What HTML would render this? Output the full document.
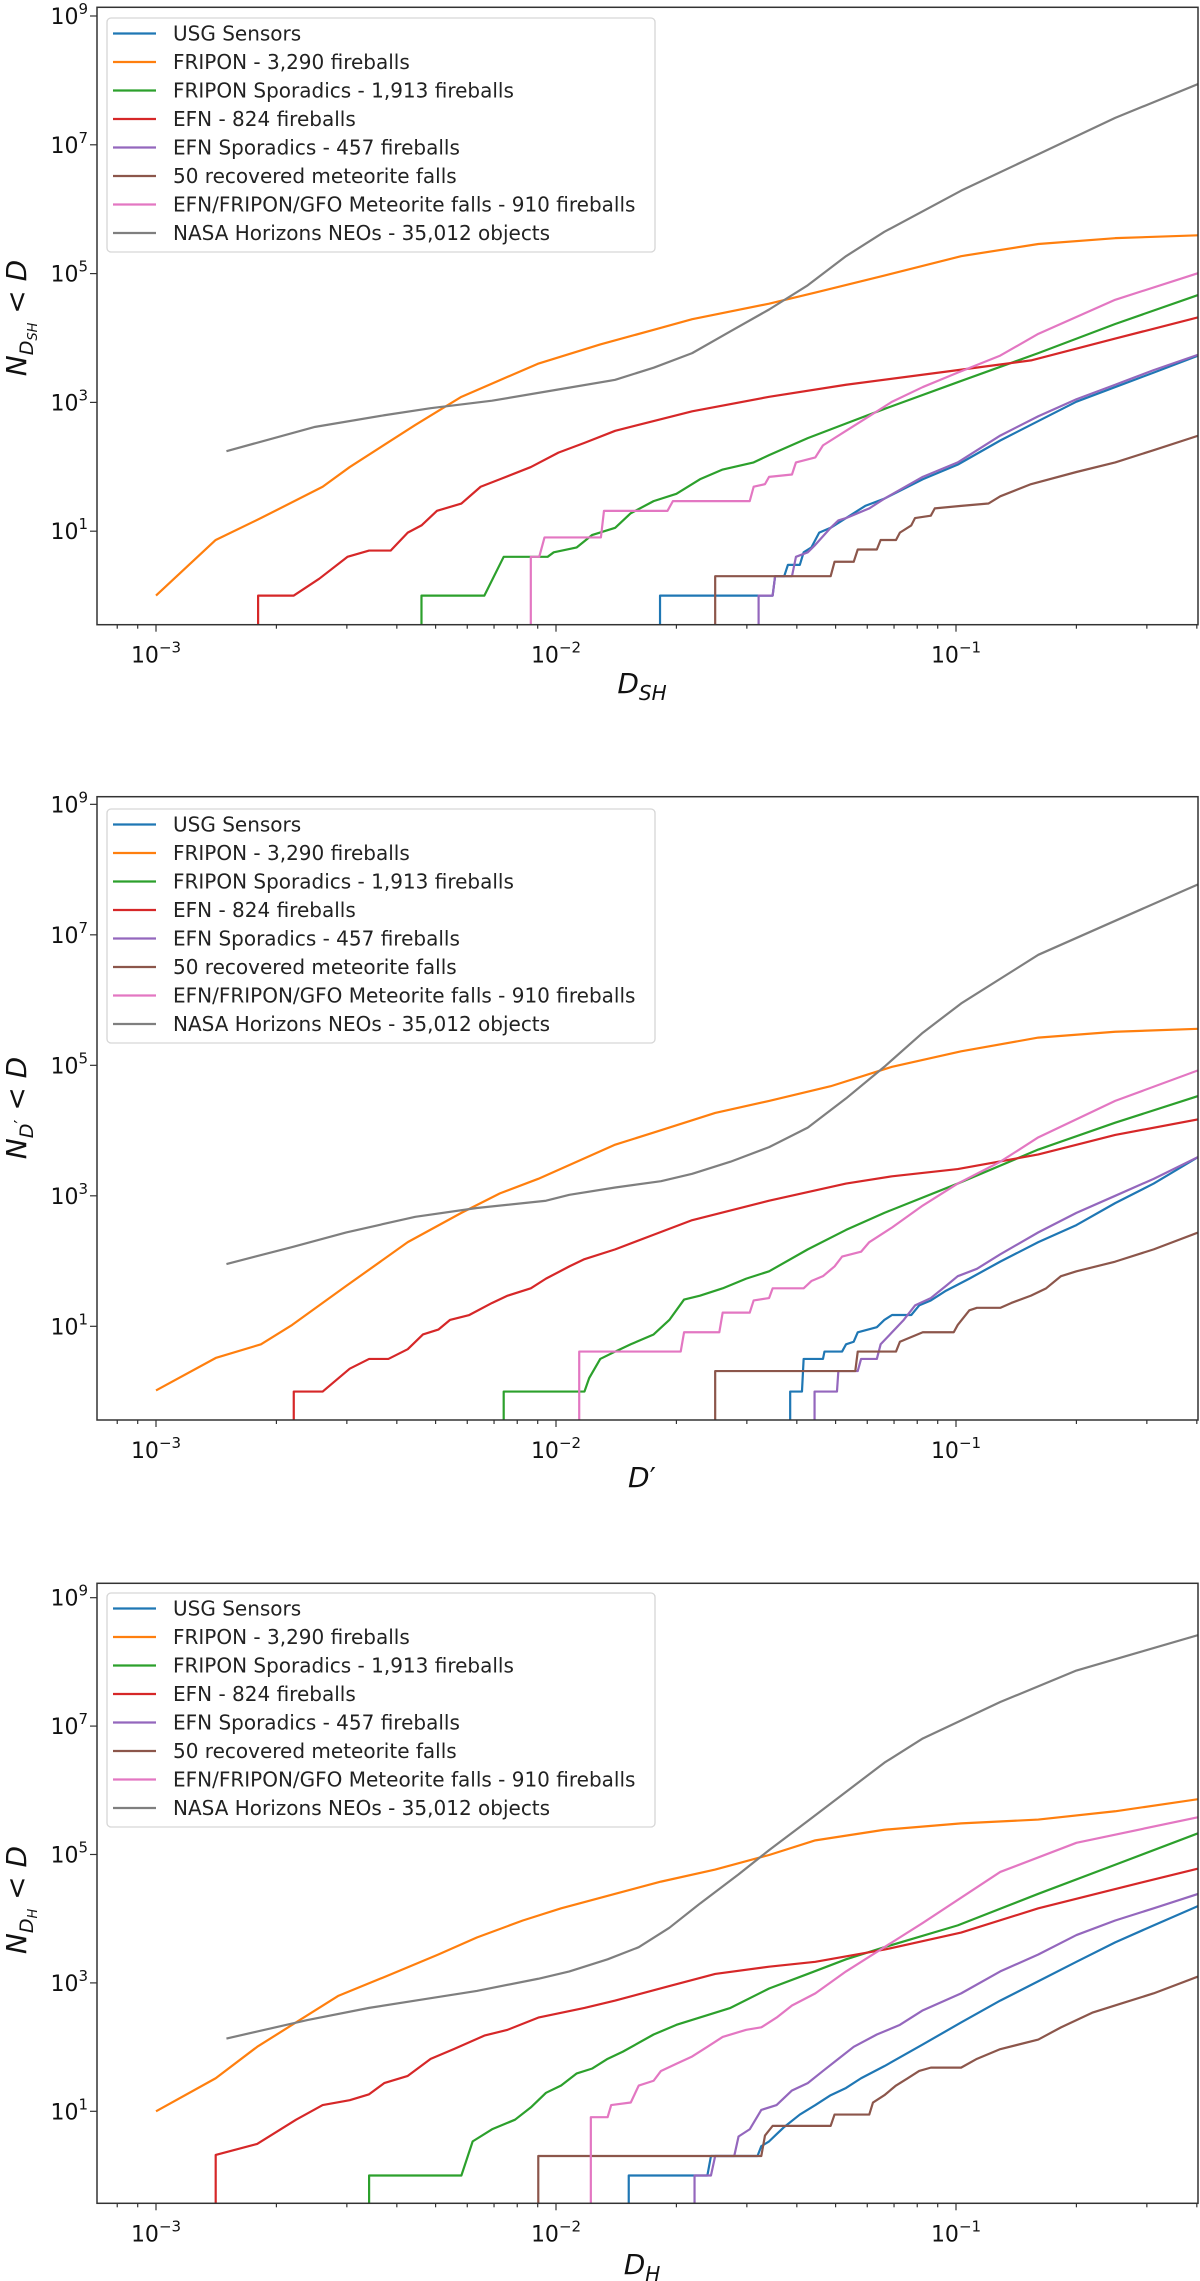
<!DOCTYPE html>
<html><head><meta charset="utf-8"><style>
html,body{margin:0;padding:0;background:#fff;}
svg{display:block;font-family:"DejaVu Sans","Liberation Sans",sans-serif;}
</style></head><body>
<svg id="fig" width="1200" height="2281" viewBox="0 0 1200 2281" xmlns="http://www.w3.org/2000/svg"></svg>
<script>
const seriesNames = ["USG Sensors","FRIPON - 3,290 fireballs","FRIPON Sporadics - 1,913 fireballs","EFN - 824 fireballs","EFN Sporadics - 457 fireballs","50 recovered meteorite falls","EFN/FRIPON/GFO Meteorite falls - 910 fireballs","NASA Horizons NEOs - 35,012 objects"];
const seriesKeys = ["usg","fripon","fripon-sporadics","efn","efn-sporadics","recovered-falls","meteorite-falls","nasa-neos"];
const seriesColors = ["#1f77b4","#ff7f0e","#2ca02c","#d62728","#9467bd","#8c564b","#e377c2","#7f7f7f"];
const xTickLabels = ["−3","−2","−1"];
const xTickValues = [0.001,0.01,0.1];
const yTickValues = [10,1000,100000,10000000,1000000000];
const yTickExps = ["1","3","5","7","9"];

// ---- Chart 1: D_SH ----
const dsh_usg_x = [0.0182,0.0182,0.0348,0.0353,0.0372,0.038,0.0407,0.0416,0.0435,0.0455,0.0486,0.0531,0.0593,0.0662,0.0826,0.101,0.129,0.1606,0.2,0.25,0.312,0.4036];
const dsh_usg_y = [0.1,1,1,2,2,3,3,4.7,5.6,9.5,11.3,16,24.7,32,64,108,256,513,1025,1730,2900,5330];
const dsh_fripon_x = [0.001,0.00141,0.00183,0.00261,0.00305,0.00445,0.0058,0.009,0.0129,0.01755,0.0219,0.0341,0.0445,0.0662,0.103,0.1606,0.25,0.4036];
const dsh_fripon_y = [1,7.3,16,49,99,447,1220,3970,7940,13400,19600,34100,50800,93300,186600,288000,355000,393000];
const dsh_spor_x = [0.00461,0.00461,0.00662,0.0074,0.00953,0.00987,0.01127,0.0123,0.01406,0.01538,0.01754,0.02,0.0229,0.0261,0.0312,0.0341,0.0426,0.0531,0.0662,0.101,0.1606,0.25,0.4036];
const dsh_spor_y = [0.1,1,1,4,4,4.7,5.6,8.7,11.3,19,29.3,38,64,90.6,117,152,279,470,791,2060,5820,16500,46700];
const dsh_efn_x = [0.0018,0.0018,0.00221,0.00256,0.00301,0.00341,0.00386,0.00426,0.00461,0.00504,0.0058,0.00648,0.00724,0.00865,0.01014,0.01178,0.01406,0.01754,0.0219,0.0341,0.0531,0.101,0.154,0.25,0.4036];
const dsh_efn_y = [0.1,1,1,1.83,4,5,5,9.5,12.3,20.7,26.9,49,64,99,166,235,362,513,726,1220,1880,3170,4490,9790,21000];
const dsh_efnspor_x = [0.0321,0.0321,0.0348,0.0353,0.0389,0.0398,0.0426,0.0445,0.0486,0.0508,0.0531,0.0607,0.0662,0.0826,0.101,0.129,0.1606,0.2,0.25,0.312,0.4036];
const dsh_efnspor_y = [0.1,1,1,2,2,4,4.7,6.15,11.3,14.7,16,22.6,32,69.8,117,305,610,1120,1880,3170,5520];
const dsh_rec_x = [0.025,0.025,0.0486,0.0497,0.0555,0.0568,0.0634,0.0648,0.0708,0.0724,0.0773,0.079,0.0865,0.0885,0.103,0.1205,0.129,0.154,0.2,0.25,0.312,0.4036];
const dsh_rec_y = [0.1,2,2,3.35,3.35,5.2,5.2,7.3,7.3,9.5,12.3,16,17.4,22.6,24.7,26.9,34.8,53.8,83,117,181,305];
const dsh_falls_x = [0.00865,0.00865,0.00908,0.00936,0.01295,0.01318,0.019,0.0196,0.0305,0.0312,0.0333,0.0341,0.0389,0.0398,0.0445,0.0465,0.0531,0.0607,0.0692,0.0826,0.101,0.129,0.1606,0.25,0.4036];
const dsh_falls_y = [0.1,4,4,8,8,20.7,20.7,29.3,29.3,49,53.8,69.8,76,117,140,215,362,610,1025,1730,2900,5330,11600,39200,102000];
const dsh_neo_x = [0.0015,0.0025,0.00372,0.00486,0.00692,0.01013,0.01406,0.01755,0.0219,0.0273,0.0341,0.0426,0.0531,0.0662,0.103,0.1606,0.25,0.4036];
const dsh_neo_y = [175,417,631,813,1062,1585,2240,3460,5820,12700,27700,65900,186600,445000,1940000,7130000,26200000,88100000];

// ---- Chart 2: D' ----
const dp_usg_x = [0.0385,0.0385,0.0412,0.0416,0.0465,0.0469,0.0519,0.0531,0.0555,0.0568,0.0634,0.0662,0.0692,0.0773,0.0809,0.0865,0.0944,0.108,0.129,0.1606,0.2,0.25,0.312,0.4036];
const dp_usg_y = [0.1,1,1,3.16,3.16,4.1,4.1,5.3,5.8,8.1,9.7,12.5,14.9,14.9,20.9,24.9,35.1,53.8,98,195,356,773,1540,3950];
const dp_fripon_x = [0.001,0.00141,0.00183,0.00219,0.00299,0.00426,0.0058,0.00724,0.00903,0.01406,0.01754,0.025,0.0341,0.0486,0.0692,0.103,0.1606,0.25,0.4036];
const dp_fripon_y = [1.04,3.27,5.3,10.5,41.6,195,548,1090,1820,6080,9330,18600,28500,47800,95000,164000,266000,327000,363000];
const dp_spor_x = [0.0074,0.0074,0.01178,0.0121,0.0129,0.01406,0.01538,0.01754,0.0192,0.0209,0.0229,0.0261,0.0299,0.0341,0.0426,0.0531,0.0662,0.101,0.1606,0.25,0.4036];
const dp_spor_y = [0.1,1,1,1.6,3.16,4.1,5.3,7.5,12.5,25.7,29.5,38.2,53.8,69.7,151,300,548,1540,5120,13200,33900];
const dp_efn_x = [0.00221,0.00221,0.00261,0.00305,0.00341,0.00381,0.00426,0.00465,0.00508,0.00543,0.00607,0.00692,0.00757,0.00865,0.00944,0.0108,0.01178,0.01406,0.01754,0.0219,0.0341,0.0531,0.0692,0.101,0.1606,0.25,0.4036];
const dp_efn_y = [0.1,1,1,2.24,3.16,3.16,4.46,7.5,8.9,12.5,14.9,22.8,29.5,38.2,53.8,82.8,107,151,253,424,841,1540,1990,2570,4300,8570,14900];
const dp_efnspor_x = [0.0443,0.0443,0.0504,0.0508,0.0568,0.0579,0.0634,0.0648,0.0692,0.074,0.079,0.0865,0.0944,0.101,0.1128,0.129,0.1606,0.2,0.25,0.312,0.4036];
const dp_efnspor_y = [0.1,1,1,2.06,2.06,3.16,3.16,5.3,8.1,12.5,20.9,27.1,41.6,58.7,76,127,275,548,1000,1820,3950];
const dp_rec_x = [0.025,0.025,0.056,0.0568,0.0708,0.0724,0.0826,0.0987,0.101,0.108,0.1128,0.129,0.1375,0.154,0.168,0.183,0.2,0.25,0.312,0.4036];
const dp_rec_y = [0.1,2.06,2.06,4.1,4.1,5.8,8.1,8.1,10.5,17.6,19.2,19.2,22.8,29.5,38.2,58.7,69.7,98,151,275];
const dp_falls_x = [0.01143,0.01143,0.0205,0.0209,0.0256,0.0261,0.0305,0.0312,0.0341,0.0348,0.0416,0.0435,0.0465,0.0497,0.0519,0.0579,0.0607,0.0692,0.0826,0.101,0.129,0.1606,0.25,0.4036];
const dp_falls_y = [0.1,4.1,4.1,8.1,8.1,16.2,16.2,24.9,27.1,38.2,38.2,49.4,58.7,82.8,117,139,195,327,710,1540,3330,7870,28500,84100];
const dp_neo_x = [0.0015,0.00219,0.00299,0.00445,0.00634,0.00944,0.0108,0.01406,0.0183,0.0219,0.0273,0.0341,0.0426,0.0531,0.0662,0.0826,0.103,0.1606,0.25,0.4036];
const dp_neo_y = [90,164,275,477,650,841,1035,1340,1675,2170,3330,5570,11100,31100,95000,316000,887000,4940000,16400000,59700000];

// ---- Chart 3: D_H ----
const dh_usg_x = [0.0152,0.0152,0.0239,0.0244,0.0319,0.0326,0.0341,0.0356,0.0372,0.0407,0.0445,0.0486,0.0531,0.0579,0.0662,0.0826,0.103,0.129,0.1606,0.2,0.25,0.312,0.4036];
const dh_usg_y = [0.1,1,1,2.01,2.01,2.86,3.4,4.4,5.7,8.9,12.5,17.8,23.1,32.7,50.5,110,242,530,1060,2130,4280,7870,15800];
const dh_fripon_x = [0.001,0.00141,0.00179,0.00234,0.00286,0.00389,0.00508,0.00634,0.00826,0.0103,0.01406,0.0183,0.025,0.0341,0.0445,0.0662,0.103,0.1606,0.25,0.4036];
const dh_fripon_y = [10,32.7,101,288,631,1380,2770,5090,9370,14500,24400,37800,58300,98200,166000,243000,305000,350000,471000,728000];
const dh_spor_x = [0.00341,0.00341,0.0058,0.00619,0.00692,0.0079,0.00865,0.00944,0.0103,0.01127,0.0123,0.01346,0.0147,0.01754,0.02,0.0273,0.0341,0.0426,0.0531,0.0662,0.101,0.1606,0.25,0.4036];
const dh_spor_y = [0.1,1,1,3.4,5.25,7.4,11.5,19.4,25.2,38.9,46.2,65.6,85,157,222,408,818,1380,2330,3600,7870,24400,69300,215000];
const dh_efn_x = [0.00141,0.00141,0.00179,0.00224,0.00261,0.00305,0.00341,0.00372,0.00426,0.00486,0.00555,0.00662,0.00757,0.00903,0.01178,0.01406,0.0192,0.025,0.0341,0.0445,0.0662,0.103,0.1606,0.25,0.4036];
const dh_efn_y = [0.1,2.09,3.1,7.4,12.5,14.9,18.4,27.5,35.6,65.6,92.9,151,186,288,408,530,893,1380,1790,2130,3300,6070,14500,29000,60400];
const dh_efnspor_x = [0.0222,0.0222,0.0244,0.025,0.0279,0.0286,0.0305,0.0326,0.0356,0.0389,0.0426,0.0465,0.0508,0.0555,0.0634,0.0724,0.0826,0.103,0.129,0.1606,0.2,0.25,0.312,0.4036];
const dh_efnspor_y = [0.1,1,1,2.01,2.01,4.05,5.25,10.5,12.5,21.1,27.5,42.5,65.6,101,157,222,374,687,1510,2770,5560,9370,14500,24400];
const dh_rec_x = [0.00903,0.00903,0.0326,0.0333,0.0348,0.0486,0.0497,0.0607,0.062,0.0662,0.0708,0.0757,0.0809,0.0865,0.103,0.1128,0.129,0.1606,0.183,0.219,0.261,0.312,0.4036];
const dh_rec_y = [0.1,2.01,2.01,4.19,5.93,5.93,8.9,8.9,13.7,17.8,25.2,32.7,42.5,47.9,47.9,65.6,92.9,131,203,343,485,687,1260];
const dh_falls_x = [0.01222,0.01222,0.01346,0.01374,0.01538,0.0161,0.01754,0.0183,0.02,0.0219,0.0239,0.0261,0.0299,0.0326,0.0356,0.0389,0.0445,0.0531,0.0662,0.0826,0.129,0.2,0.4036];
const dh_falls_y = [0.1,8.1,8.1,12.5,13.7,25.2,29.9,42.5,55.1,71.4,101,144,186,203,288,445,687,1510,3600,8590,53500,152000,382000];
const dh_neo_x = [0.0015,0.00239,0.00341,0.00486,0.00634,0.00903,0.0108,0.01346,0.0161,0.0192,0.0229,0.0286,0.0341,0.0426,0.0531,0.0662,0.0826,0.129,0.2,0.4036];
const dh_neo_y = [136,264,408,578,750,1160,1510,2330,3600,7210,17200,49000,117000,333000,944000,2690000,6410000,23700000,73400000,262000000];

const NS = "http://www.w3.org/2000/svg";
const fig = document.getElementById("fig");
function mk(tag, attrs, parent){
  const e = document.createElementNS(NS, tag);
  for (const k in attrs) e.setAttribute(k, attrs[k]);
  (parent||fig).appendChild(e);
  return e;
}

const charts = [
  {id:"dsh", top:7.3, bottom:624.7, yLogTop:9.135, yLogBot:-0.452, xlabel:"SH", xlabelY:693, ylabelCY:318, legendTop:18,
   series:[[dsh_usg_x,dsh_usg_y],[dsh_fripon_x,dsh_fripon_y],[dsh_spor_x,dsh_spor_y],[dsh_efn_x,dsh_efn_y],[dsh_efnspor_x,dsh_efnspor_y],[dsh_rec_x,dsh_rec_y],[dsh_falls_x,dsh_falls_y],[dsh_neo_x,dsh_neo_y]]},
  {id:"dprime", top:796.7, bottom:1420, yLogTop:9.117, yLogBot:-0.436, xlabel:"prime", xlabelY:1487, ylabelCY:1108, legendTop:809,
   series:[[dp_usg_x,dp_usg_y],[dp_fripon_x,dp_fripon_y],[dp_spor_x,dp_spor_y],[dp_efn_x,dp_efn_y],[dp_efnspor_x,dp_efnspor_y],[dp_rec_x,dp_rec_y],[dp_falls_x,dp_falls_y],[dp_neo_x,dp_neo_y]]},
  {id:"dh", top:1583.3, bottom:2203.3, yLogTop:9.224, yLogBot:-0.433, xlabel:"H", xlabelY:2274, ylabelCY:1900, legendTop:1593,
   series:[[dh_usg_x,dh_usg_y],[dh_fripon_x,dh_fripon_y],[dh_spor_x,dh_spor_y],[dh_efn_x,dh_efn_y],[dh_efnspor_x,dh_efnspor_y],[dh_rec_x,dh_rec_y],[dh_falls_x,dh_falls_y],[dh_neo_x,dh_neo_y]]}
];

const LEFT = 97, RIGHT = 1198;
const xLogLeft = -3.1475, xLogRight = -0.395;

charts.forEach((c) => {
  const g = mk("g", {});
  
  
  const xs = v => LEFT + (Math.log10(v) - xLogLeft) / (xLogRight - xLogLeft) * (RIGHT - LEFT);
  const ys = v => c.top + (c.yLogTop - Math.log10(v)) / (c.yLogTop - c.yLogBot) * (c.bottom - c.top);

  const clip = mk("clipPath", {id:"clip-" + c.id}, g);
  mk("rect", {x:LEFT, y:c.top, width:RIGHT-LEFT, height:c.bottom-c.top}, clip);

  const sg = mk("g", {"clip-path":"url(#clip-" + c.id + ")"}, g);
  c.series.forEach((s, i) => {
    const pts = s[0].map((xv, j) => xs(xv).toFixed(2) + "," + ys(s[1][j]).toFixed(2)).join(" ");
    const pl = mk("polyline", {points:pts, fill:"none", stroke:seriesColors[i], "stroke-width":2.2, "stroke-linejoin":"round"}, sg);
    
    
  });

  const frame = mk("rect", {x:LEFT, y:c.top, width:RIGHT-LEFT, height:c.bottom-c.top, fill:"none", stroke:"#333", "stroke-width":1.5}, g);
  
  

  for (let d = -4; d <= 0; d++) {
    for (let k = 1; k <= 9; k++) {
      const v = k * Math.pow(10, d);
      const px = xs(v);
      if (px < LEFT - 0.5 || px > RIGHT + 0.5) continue;
      mk("line", {x1:px, x2:px, y1:c.bottom, y2:c.bottom + (k === 1 ? 7 : 4), stroke:"#333", "stroke-width":1.2}, g);
    }
  }
  xTickValues.forEach((v, i) => {
    const px = xs(v);
    const t = mk("text", {x:px, y:c.bottom + 38, "text-anchor":"middle", "font-size":22, fill:"#111"}, g);
    
    
    t.appendChild(document.createTextNode("10"));
    const sup = mk("tspan", {dy:-10, "font-size":15}, t);
    sup.textContent = xTickLabels[i];
  });

  yTickValues.forEach((v, i) => {
    const py = ys(v);
    mk("line", {x1:LEFT - 7, x2:LEFT, y1:py, y2:py, stroke:"#333", "stroke-width":1.2}, g);
    const t = mk("text", {x:88, y:py + 8, "text-anchor":"end", "font-size":22, fill:"#111"}, g);
    
    
    t.appendChild(document.createTextNode("10"));
    const sup = mk("tspan", {dy:-10, "font-size":15}, t);
    sup.textContent = yTickExps[i];
  });

  const xt = mk("text", {x:642, y:c.xlabelY, "text-anchor":"middle", "font-size":28, "font-style":"italic", fill:"#111"}, g);
  
  
  xt.appendChild(document.createTextNode("D"));
  if (c.xlabel === "prime") {
    const p = mk("tspan", {"font-style":"normal"}, xt); p.textContent = "′";
  } else {
    const s = mk("tspan", {dy:7, "font-size":20}, xt); s.textContent = c.xlabel;
  }

  const yt = mk("text", {x:0, y:0, "text-anchor":"middle", "font-size":28, "font-style":"italic", fill:"#111", transform:"translate(26," + c.ylabelCY + ") rotate(-90)"}, g);
  
  
  yt.appendChild(document.createTextNode("N"));
  const s1 = mk("tspan", {dy:7, "font-size":19}, yt); s1.textContent = "D";
  if (c.xlabel === "prime") {
    const s2 = mk("tspan", {"font-size":18, "font-style":"normal", dy:-6}, yt); s2.textContent = "′";
    const s3 = mk("tspan", {dy:-1, "font-style":"normal"}, yt); s3.textContent = " < ";
  } else {
    const s2 = mk("tspan", {"font-size":13, dy:4}, yt); s2.textContent = c.xlabel;
    const s3 = mk("tspan", {dy:-11, "font-style":"normal"}, yt); s3.textContent = " < ";
  }
  const s4 = mk("tspan", {}, yt); s4.textContent = "D";

  const lg = mk("g", {}, g);
  
  
  mk("rect", {x:107, y:c.legendTop, width:548, height:234, rx:4, fill:"#fff", "fill-opacity":0.85, stroke:"#d6d6d6", "stroke-width":1.3}, lg);
  seriesNames.forEach((n, i) => {
    const ry = c.legendTop + 15.5 + i * 28.5;
    const e = mk("g", {}, lg);
    
    
    mk("line", {x1:113, x2:156, y1:ry, y2:ry, stroke:seriesColors[i], "stroke-width":2.2}, e);
    const t = mk("text", {x:173, y:ry + 7, "font-size":20, fill:"#222"}, e);
    t.textContent = n;
  });
});
</script>
</body></html>
